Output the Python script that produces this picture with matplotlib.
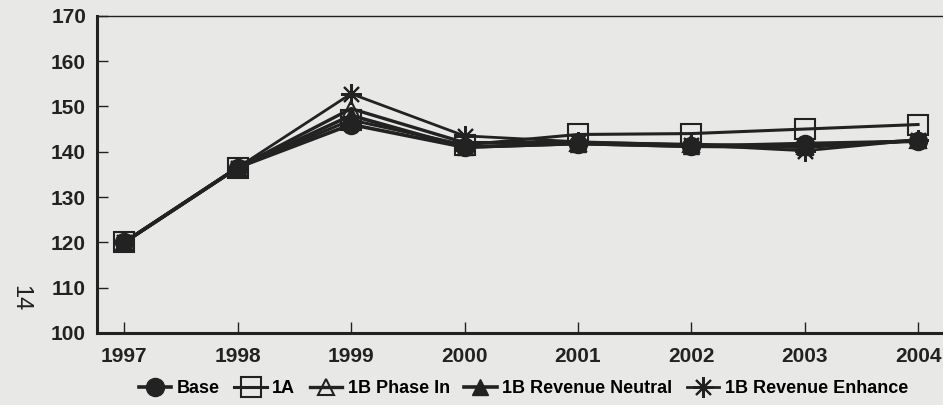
import matplotlib.pyplot as plt

years = [1997, 1998, 1999, 2000, 2001, 2002, 2003, 2004]

base = [120, 136.5, 146, 141, 141.8, 141.2, 141.8, 142.3]
plan_1a = [120, 136.5, 147, 141.5, 143.8, 144.0, 145.0, 146.0]
phase_in = [120, 136.5, 149.5, 142, 142.0, 141.6, 141.2, 142.5]
rev_neutral = [120, 136.5, 148, 141, 141.8, 141.2, 141.0, 142.5]
rev_enhance = [120, 136.5, 152.8, 143.5, 142.2, 141.5, 140.2, 142.6]

labels = ['Base', '1A', '1B Phase In', '1B Revenue Neutral', '1B Revenue Enhance']

bg = '#e8e8e6'
ink = '#222222'

plt.rcParams['font.family'] = 'Liberation Sans'
plt.rcParams['font.weight'] = 'bold'

fig = plt.figure(figsize=(9.43, 4.05), dpi=100, facecolor=bg)
ax = fig.add_axes([0.103, 0.178, 0.897, 0.783])
ax.set_facecolor(bg)

ax.plot(years, base, color=ink, lw=2.6, marker='o', ms=13, mfc=ink, mec=ink, label=labels[0])
ax.plot(years, plan_1a, color=ink, lw=2.2, marker='s', ms=14, mfc='none', mec=ink, mew=1.5, label=labels[1])
ax.plot(years, phase_in, color=ink, lw=2.4, marker='^', ms=12, mfc='none', mec=ink, mew=1.5, label=labels[2])
ax.plot(years, rev_neutral, color=ink, lw=2.6, marker='^', ms=12, mfc=ink, mec=ink, label=labels[3])
ax.plot(years, rev_enhance, color=ink, lw=2.0, marker=(8, 2, 0), ms=15, mec=ink, mew=1.5, label=labels[4])

ax.set_xlim(1996.76, 2004.22)
ax.set_ylim(100, 170)
ax.set_xticks(years)
ax.set_yticks(range(100, 171, 10))
ax.tick_params(direction='in', length=8, width=1, colors=ink, labelsize=15, pad=8)
ax.tick_params(axis='x', pad=10)
for lbl in ax.get_xticklabels() + ax.get_yticklabels():
    lbl.set_fontweight('bold')

ax.spines['right'].set_visible(False)
ax.spines['left'].set_linewidth(2.2)
ax.spines['bottom'].set_linewidth(2.2)
ax.spines['top'].set_linewidth(1)
for s in ax.spines.values():
    s.set_color(ink)

fig.legend(loc='center', bbox_to_anchor=(0.555, 0.04), ncol=5, frameon=False,
           handlelength=1.8, handletextpad=0.3, columnspacing=0.8,
           prop={'weight': 'bold', 'size': 13})

fig.text(0.022, 0.265, '14', rotation=-90, fontsize=17, color=ink, fontweight='normal',
         ha='center', va='center')

fig.savefig('out.png', dpi=100, facecolor=bg)
